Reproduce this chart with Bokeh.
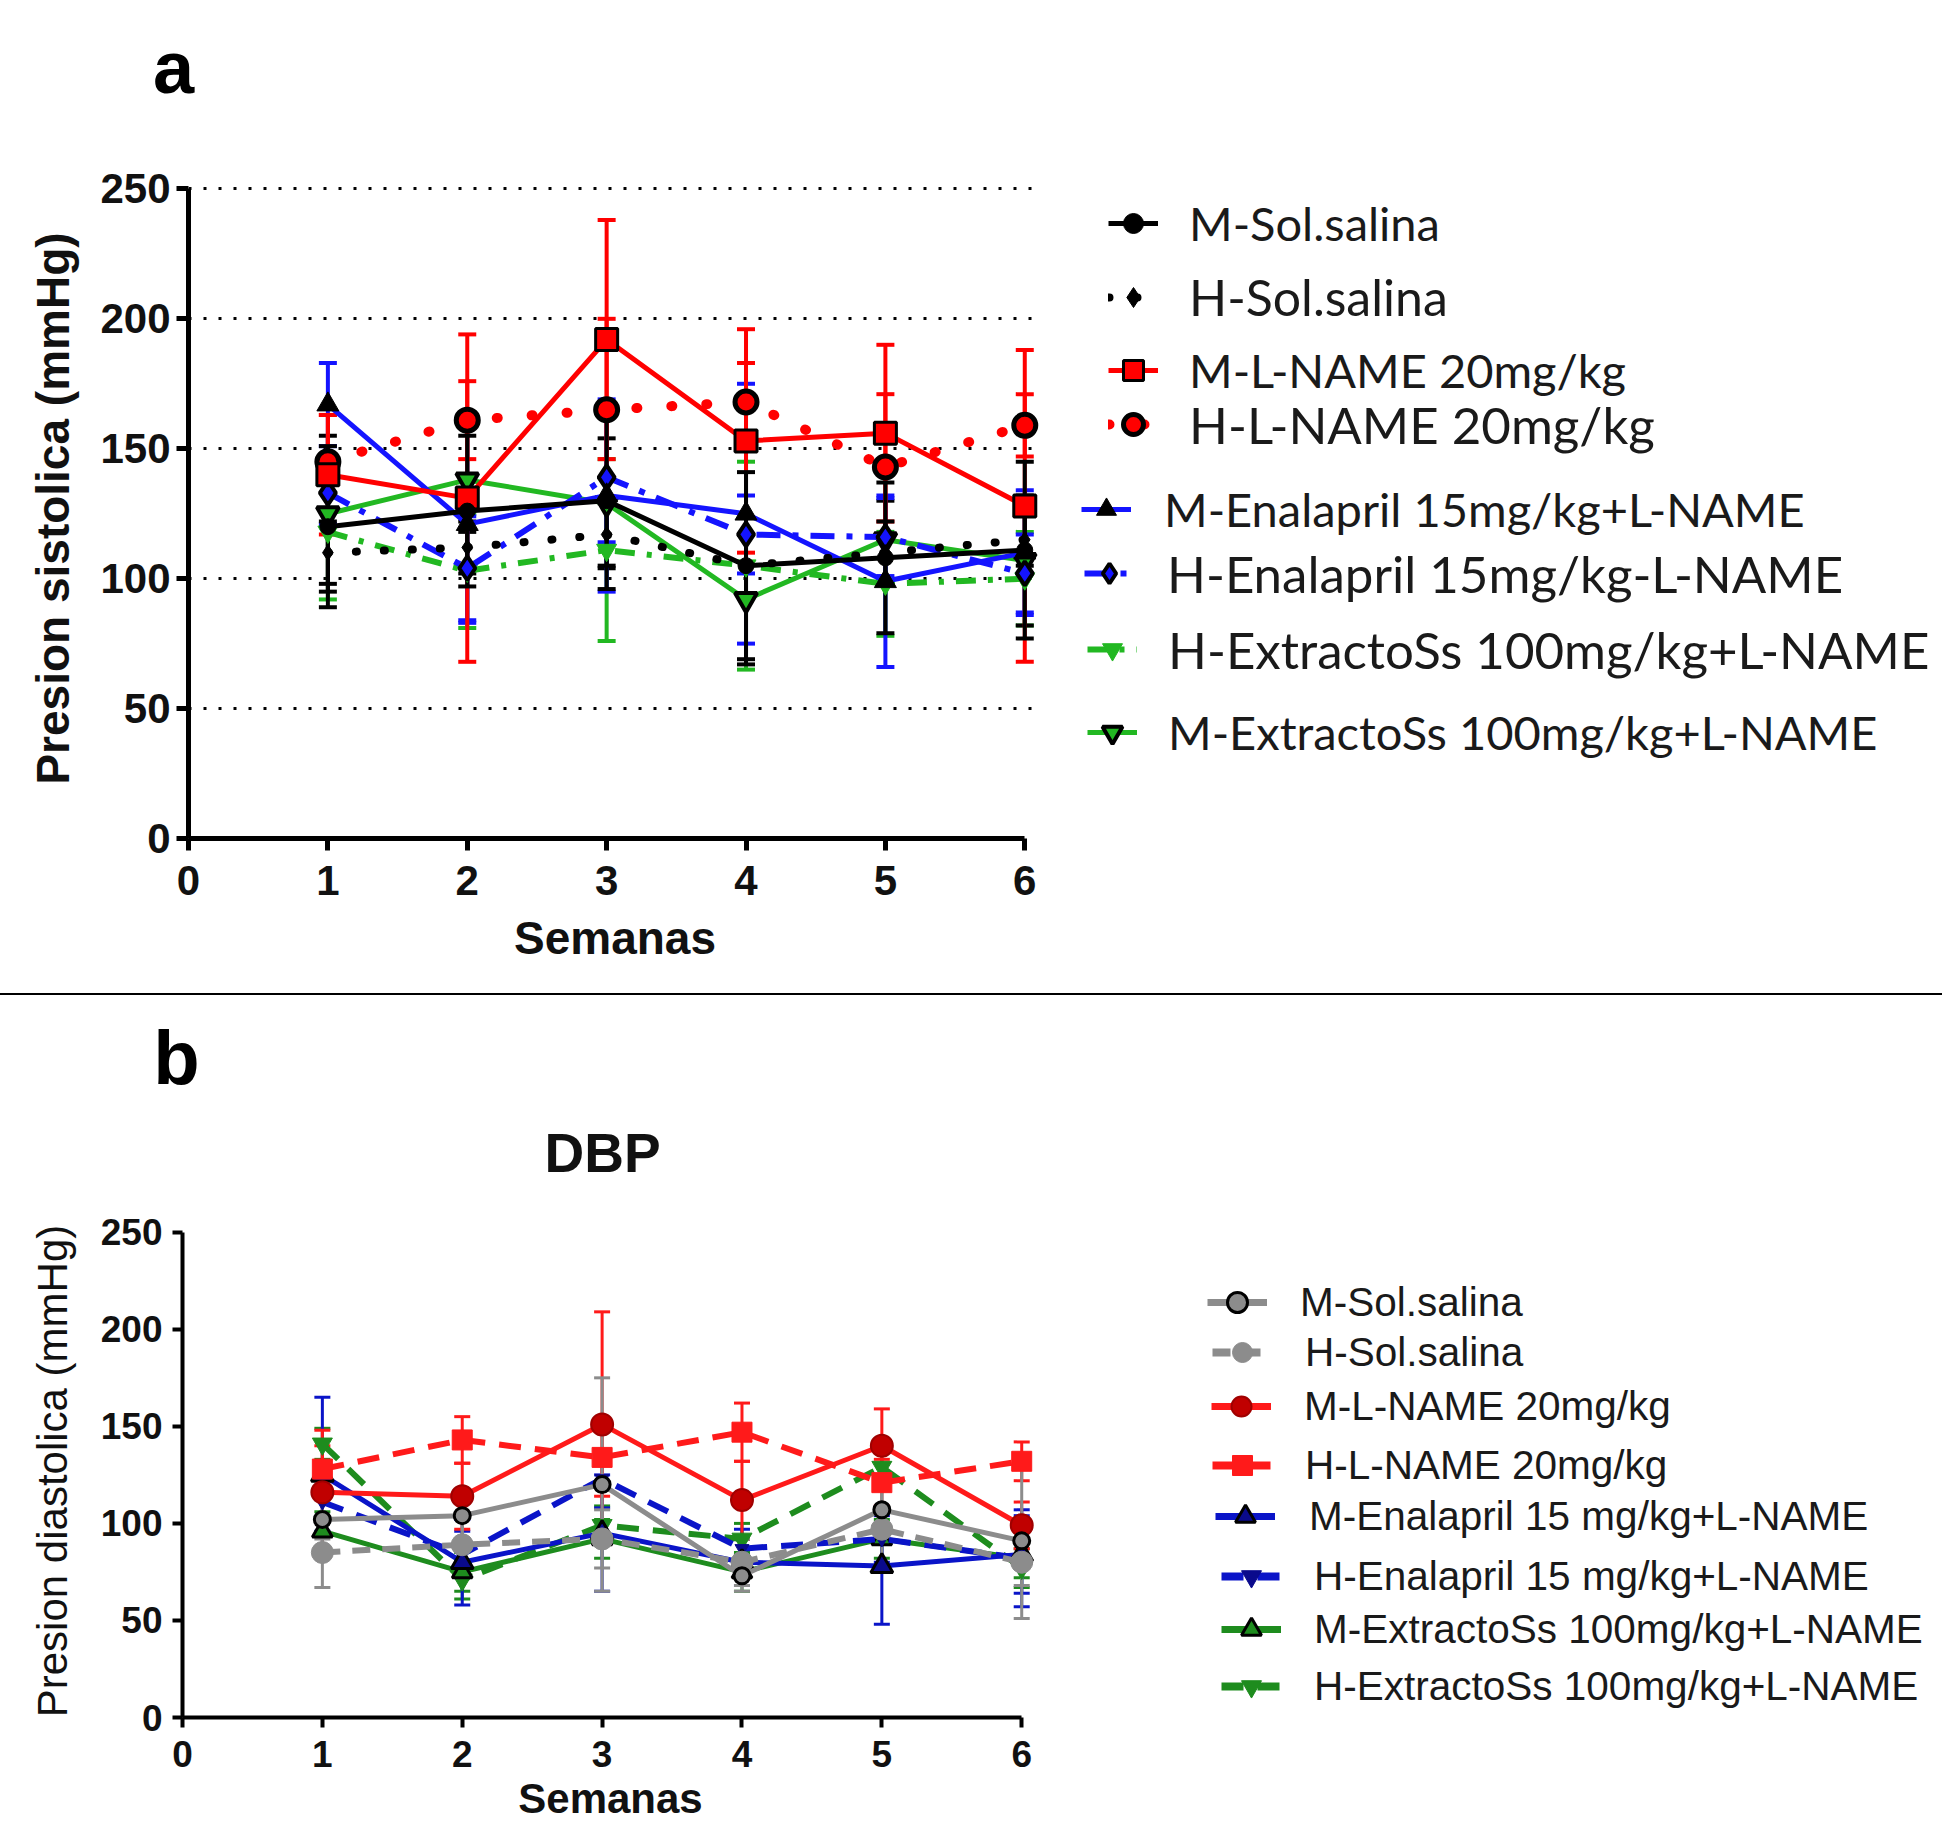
from bokeh.plotting import figure
from bokeh.models import (ColumnDataSource, Whisker, TeeHead, Legend, LegendItem,
                          Label, Div, Range1d, FixedTicker)
from bokeh.layouts import column, row
from bokeh.embed import file_html
from bokeh.resources import INLINE

# ---------------- data ----------------
weeks = [1, 2, 3, 4, 5, 6]
x_ticks = [0, 1, 2, 3, 4, 5, 6]
y_ticks = [0, 50, 100, 150, 200, 250]

# Panel a : systolic pressure (mean, SD)
sbp_m_sol = [120, 126, 130, 105, 108, 111]
sbp_m_sol_sd = [31, 29, 34, 36, 29, 34]
sbp_h_sol = [110, 112, 117, 105, 110, 115]
sbp_h_sol_sd = [12, 10, 12, 12, 12, 10]
sbp_m_lname = [140, 131, 192, 153, 156, 128]
sbp_m_lname_sd = [23, 63, 46, 43, 34, 60]
sbp_h_lname = [145, 161, 165, 168, 143, 159]
sbp_h_lname_sd = [18, 15, 35, 15, 28, 12]
sbp_m_enal = [167, 121, 132, 125, 99, 110]
sbp_m_enal_sd = [16, 38, 37, 50, 33, 24]
sbp_h_enal = [133, 104, 139, 117, 116, 102]
sbp_h_enal_sd = [12, 20, 25, 15, 15, 15]
sbp_h_ext = [118, 103, 111, 105, 98, 100]
sbp_h_ext_sd = [26, 22, 35, 40, 20, 18]
sbp_m_ext = [125, 138, 129, 92, 115, 107]
sbp_m_ext_sd = [30, 20, 25, 25, 15, 25]

sbp_labels = ["M-Sol.salina", "H-Sol.salina", "M-L-NAME 20mg/kg", "H-L-NAME 20mg/kg",
              "M-Enalapril 15mg/kg+L-NAME", "H-Enalapril 15mg/kg-L-NAME",
              "H-ExtractoSs 100mg/kg+L-NAME", "M-ExtractoSs 100mg/kg+L-NAME"]

# Panel b : diastolic pressure (mean, SD)
dbp_m_sol = [102, 104, 120, 73, 107, 91]
dbp_m_sol_sd = [10, 12, 55, 8, 12, 40]
dbp_h_sol = [85, 89, 92, 80, 97, 80]
dbp_h_sol_sd = [18, 15, 15, 12, 20, 12]
dbp_m_lname = [116, 114, 151, 112, 140, 99]
dbp_m_lname_sd = [32, 17, 58, 20, 19, 12]
dbp_h_lname = [128, 143, 134, 147, 121, 132]
dbp_h_lname_sd = [12, 12, 20, 15, 12, 10]
dbp_m_enal = [125, 80, 95, 80, 78, 84]
dbp_m_enal_sd = [40, 22, 30, 12, 30, 20]
dbp_h_enal = [111, 84, 123, 87, 92, 82]
dbp_h_enal_sd = [15, 12, 15, 10, 12, 25]
dbp_m_ext = [96, 75, 92, 75, 92, 82]
dbp_m_ext_sd = [10, 10, 10, 10, 10, 10]
dbp_h_ext = [141, 71, 99, 92, 129, 77]
dbp_h_ext_sd = [8, 10, 10, 8, 8, 10]

dbp_labels = ["M-Sol.salina", "H-Sol.salina", "M-L-NAME 20mg/kg", "H-L-NAME 20mg/kg",
              "M-Enalapril 15 mg/kg+L-NAME", "H-Enalapril 15 mg/kg+L-NAME",
              "M-ExtractoSs 100mg/kg+L-NAME", "H-ExtractoSs 100mg/kg+L-NAME"]

FONT = "Liberation Sans"


def make_src(vals, sd):
    return ColumnDataSource(dict(x=weeks, y=vals,
                                 upper=[v + s for v, s in zip(vals, sd)],
                                 lower=[v - s for v, s in zip(vals, sd)]))


def blank_fig(w, h):
    f = figure(width=w, height=h, x_range=Range1d(100, 101), y_range=Range1d(1000, 1001),
               x_axis_type=None, y_axis_type=None, output_backend="svg",
               toolbar_location=None, min_border=0)
    f.outline_line_color = None
    f.grid.visible = False
    return f


def style_axes(p, tick_size, lab_size, ylab_style, tw, tlen, xstand, ystand, xlstand, ylstand):
    for ax in (p.xaxis[0], p.yaxis[0]):
        ax.axis_line_width = tw
        ax.major_tick_line_width = tw
        ax.major_tick_out = tlen
        ax.major_tick_in = 0
        ax.minor_tick_line_color = None
        ax.major_label_text_font = FONT
        ax.major_label_text_font_style = "bold"
        ax.major_label_text_font_size = tick_size
        ax.major_label_text_color = "#111111"
        ax.axis_label_text_font = FONT
        ax.axis_label_text_font_size = lab_size
        ax.axis_label_text_color = "#111111"
    p.xaxis.ticker = FixedTicker(ticks=x_ticks)
    p.yaxis.ticker = FixedTicker(ticks=y_ticks)
    p.xaxis.bounds = (0, 6)
    p.yaxis.bounds = (0, 250)
    p.xaxis.axis_label = "Semanas"
    p.xaxis.axis_label_text_font_style = "bold"
    p.yaxis.axis_label_text_font_style = ylab_style
    p.xaxis.major_label_standoff = xstand
    p.yaxis.major_label_standoff = ystand
    p.xaxis.axis_label_standoff = xlstand
    p.yaxis.axis_label_standoff = ylstand


def draw_series(p, src, color, lw, dash, cap, marker, msize, mfill, mline, mlw):
    lr = p.line("x", "y", source=src, line_color=color, line_width=lw,
                line_dash=dash, line_cap=cap)
    sr = p.scatter("x", "y", source=src, marker=marker, size=msize,
                   fill_color=mfill, line_color=mline, line_width=mlw)
    return [lr, sr]


def add_whisker(p, src, ecolor, elw, ehead):
    p.add_layout(Whisker(base="x", upper="upper", lower="lower", source=src,
                         line_color=ecolor, line_width=elw,
                         upper_head=TeeHead(size=ehead, line_color=ecolor, line_width=elw),
                         lower_head=TeeHead(size=ehead, line_color=ecolor, line_width=elw)))


def add_legend(p, label, rends, fl, fb, yc, gx, tx, font, size, gw, gh, color):
    leg = Legend(items=[LegendItem(label=label, renderers=rends)],
                 location=(gx - fl, fb - yc - gh / 2),
                 padding=0, margin=0, spacing=0,
                 border_line_alpha=0, background_fill_alpha=0,
                 glyph_width=gw, glyph_height=gh, label_height=gh,
                 label_standoff=tx - gx - gw,
                 label_text_font=font, label_text_font_size=size,
                 label_text_color=color)
    p.add_layout(leg)


# ---------------- panel a ----------------
stripA = blank_fig(1942, 128)
stripA.add_layout(Label(x=173, y=61, x_units="screen", y_units="screen", text="a",
                        text_font=FONT, text_font_style="bold", text_font_size="74px",
                        text_align="center", text_baseline="middle", text_color="black"))

pA = figure(width=1051, height=865, x_range=Range1d(0, 6.12), y_range=Range1d(0, 254),
            output_backend="svg", toolbar_location=None,
            min_border_left=188, min_border_right=10, min_border_top=50, min_border_bottom=155)
pA.outline_line_color = None
pA.xgrid.visible = False
pA.ygrid.grid_line_color = "black"
pA.ygrid.grid_line_width = 3
pA.ygrid.grid_line_dash = "3 12"
style_axes(pA, "42px", "46px", "bold", 5, 12, 15, 6, 14, 18)
pA.yaxis.axis_label = "Presion sistolica (mmHg)"
legA = blank_fig(891, 865)

RED, BLUE, GREEN, BLACK = "#ff0000", "#1414ff", "#22b822", "#000000"

a_specs = [
    # vals, sd, color, lw, dash, cap, marker, msize, fill, line, mlw, ecolor
    (sbp_h_ext, sbp_h_ext_sd, GREEN, 6, "20 12 5 12", "butt", "inverted_triangle", 20, GREEN, GREEN, 1, GREEN),
    (sbp_m_ext, sbp_m_ext_sd, GREEN, 5, "solid", "butt", "inverted_triangle", 22, GREEN, BLACK, 4, BLACK),
    (sbp_h_enal, sbp_h_enal_sd, BLUE, 6, "24 12 6 12", "butt", "diamond", 24, BLUE, BLACK, 4, BLUE),
    (sbp_m_enal, sbp_m_enal_sd, BLUE, 5, "solid", "butt", "triangle", 22, BLACK, BLACK, 1, BLUE),
    (sbp_h_lname, sbp_h_lname_sd, RED, 10, "1 34", "round", "circle", 22, RED, BLACK, 5, RED),
    (sbp_m_lname, sbp_m_lname_sd, RED, 5, "solid", "butt", "square", 22, RED, BLACK, 3, RED),
    (sbp_h_sol, sbp_h_sol_sd, BLACK, 8, "1 27", "round", "diamond", 16, BLACK, BLACK, 1, BLACK),
    (sbp_m_sol, sbp_m_sol_sd, BLACK, 5, "solid", "butt", "circle", 16, BLACK, BLACK, 1, BLACK),
]
a_leg_rends = []
for vals, sd, c, lw, dash, cap, mk, ms, mf, ml, mlw, ec in a_specs:
    src = make_src(vals, sd)
    add_whisker(pA, src, ec, 4, 18)
    draw_series(pA, src, c, lw, dash, cap, mk, ms, mf, ml, mlw)
    a_leg_rends.append(draw_series(legA, src, c, lw, dash, cap, mk, ms, mf, ml, mlw))

# legend order: M-Sol, H-Sol, M-L, H-L, M-Enal, H-Enal, H-Ext, M-Ext
# (legend frame is aligned with the plot frame: left 1051, bottom 838)
a_order = [7, 6, 5, 4, 3, 2, 0, 1]
a_leg_y = [223, 297, 370, 424, 509, 573, 649, 732]
a_leg_gx = [1108, 1108, 1108, 1108, 1081, 1084, 1087, 1087]
a_leg_tx = [1189, 1189, 1189, 1189, 1164, 1167, 1168, 1168]
a_leg_fs = ["47px", "50px", "47px", "51px", "47px", "51px", "51px", "47px"]
for i, k in enumerate(a_order):
    add_legend(legA, sbp_labels[i], a_leg_rends[k], 1051, 838, a_leg_y[i], a_leg_gx[i],
               a_leg_tx[i], "Lato", a_leg_fs[i], 50, 64, "#1a1a1a")

sep = Div(width=1942, height=2, margin=0, styles={"background-color": "black"})

# ---------------- panel b ----------------
stripB = blank_fig(1942, 195)
stripB.add_layout(Label(x=176, y=133, x_units="screen", y_units="screen", text="b",
                        text_font=FONT, text_font_style="bold", text_font_size="76px",
                        text_align="center", text_baseline="middle", text_color="black"))
stripB.add_layout(Label(x=602, y=38, x_units="screen", y_units="screen", text="DBP",
                        text_font=FONT, text_font_style="bold", text_font_size="55px",
                        text_align="center", text_baseline="middle", text_color="#111111"))

pB = figure(width=1048, height=644, x_range=Range1d(0, 6.12), y_range=Range1d(0, 254),
            output_backend="svg", toolbar_location=None,
            min_border_left=182, min_border_right=10, min_border_top=34, min_border_bottom=117)
pB.outline_line_color = None
pB.xgrid.visible = False
pB.ygrid.visible = False
style_axes(pB, "37px", "42px", "normal", 4, 10, 13, 10, 5, 22)
pB.yaxis.axis_label = "Presion diastolica (mmHg)"
pB.yaxis.axis_label_text_font_size = "42px"
legB = blank_fig(894, 644)

GRAY, RED2, DRED, BLUE2, NAVY, GREEN2 = "#8c8c8c", "#ff1a1a", "#c00000", "#0a14c8", "#0a0a8c", "#1e8c1e"
b_specs = [
    (dbp_h_ext, dbp_h_ext_sd, GREEN2, 6, "22 14", "butt", "inverted_triangle", 20, GREEN2, GREEN2, 1, GREEN2),
    (dbp_m_ext, dbp_m_ext_sd, GREEN2, 5, "solid", "butt", "triangle", 20, GREEN2, BLACK, 3, GREEN2),
    (dbp_h_enal, dbp_h_enal_sd, BLUE2, 6, "22 14", "butt", "inverted_triangle", 14, NAVY, NAVY, 1, BLUE2),
    (dbp_m_enal, dbp_m_enal_sd, BLUE2, 5, "solid", "butt", "triangle", 22, NAVY, BLACK, 3, BLUE2),
    (dbp_h_lname, dbp_h_lname_sd, RED2, 6, "22 14", "butt", "square", 20, RED2, RED2, 1, RED2),
    (dbp_m_lname, dbp_m_lname_sd, RED2, 5, "solid", "butt", "circle", 22, DRED, "#a00000", 2, RED2),
    (dbp_h_sol, dbp_h_sol_sd, GRAY, 6, "18 12", "butt", "circle", 22, GRAY, GRAY, 1, GRAY),
    (dbp_m_sol, dbp_m_sol_sd, GRAY, 5, "solid", "butt", "circle", 16, GRAY, BLACK, 3, GRAY),
]
b_leg_rends = []
for vals, sd, c, lw, dash, cap, mk, ms, mf, ml, mlw, ec in b_specs:
    src = make_src(vals, sd)
    add_whisker(pB, src, ec, 3, 16)
    draw_series(pB, src, c, lw, dash, cap, mk, ms, mf, ml, mlw)
    b_leg_rends.append(draw_series(legB, src, c, lw + 2, dash, cap, mk, ms, mf, ml, mlw))

# legend order: M-Sol, H-Sol, M-L, H-L, M-Enal, H-Enal, M-Ext, H-Ext
# (legend frame is aligned with the plot frame: left 1048, bottom 1717)
b_order = [7, 6, 5, 4, 3, 2, 1, 0]
b_leg_y = [1302, 1352, 1406, 1465, 1516, 1576, 1629, 1686]
b_leg_gx = [1207, 1212, 1211, 1212, 1215, 1221, 1221, 1221]
b_leg_tx = [1300, 1305, 1304, 1305, 1309, 1314, 1314, 1314]
for i, k in enumerate(b_order):
    add_legend(legB, dbp_labels[i], b_leg_rends[k], 1048, 1717, b_leg_y[i], b_leg_gx[i],
               b_leg_tx[i], FONT, "40.5px", 60, 50, "#1a1a1a")

layout = column(stripA, row(pA, legA, spacing=0), sep, stripB, row(pB, legB, spacing=0), spacing=0)
open("out.html", "w").write(file_html(layout, INLINE))
